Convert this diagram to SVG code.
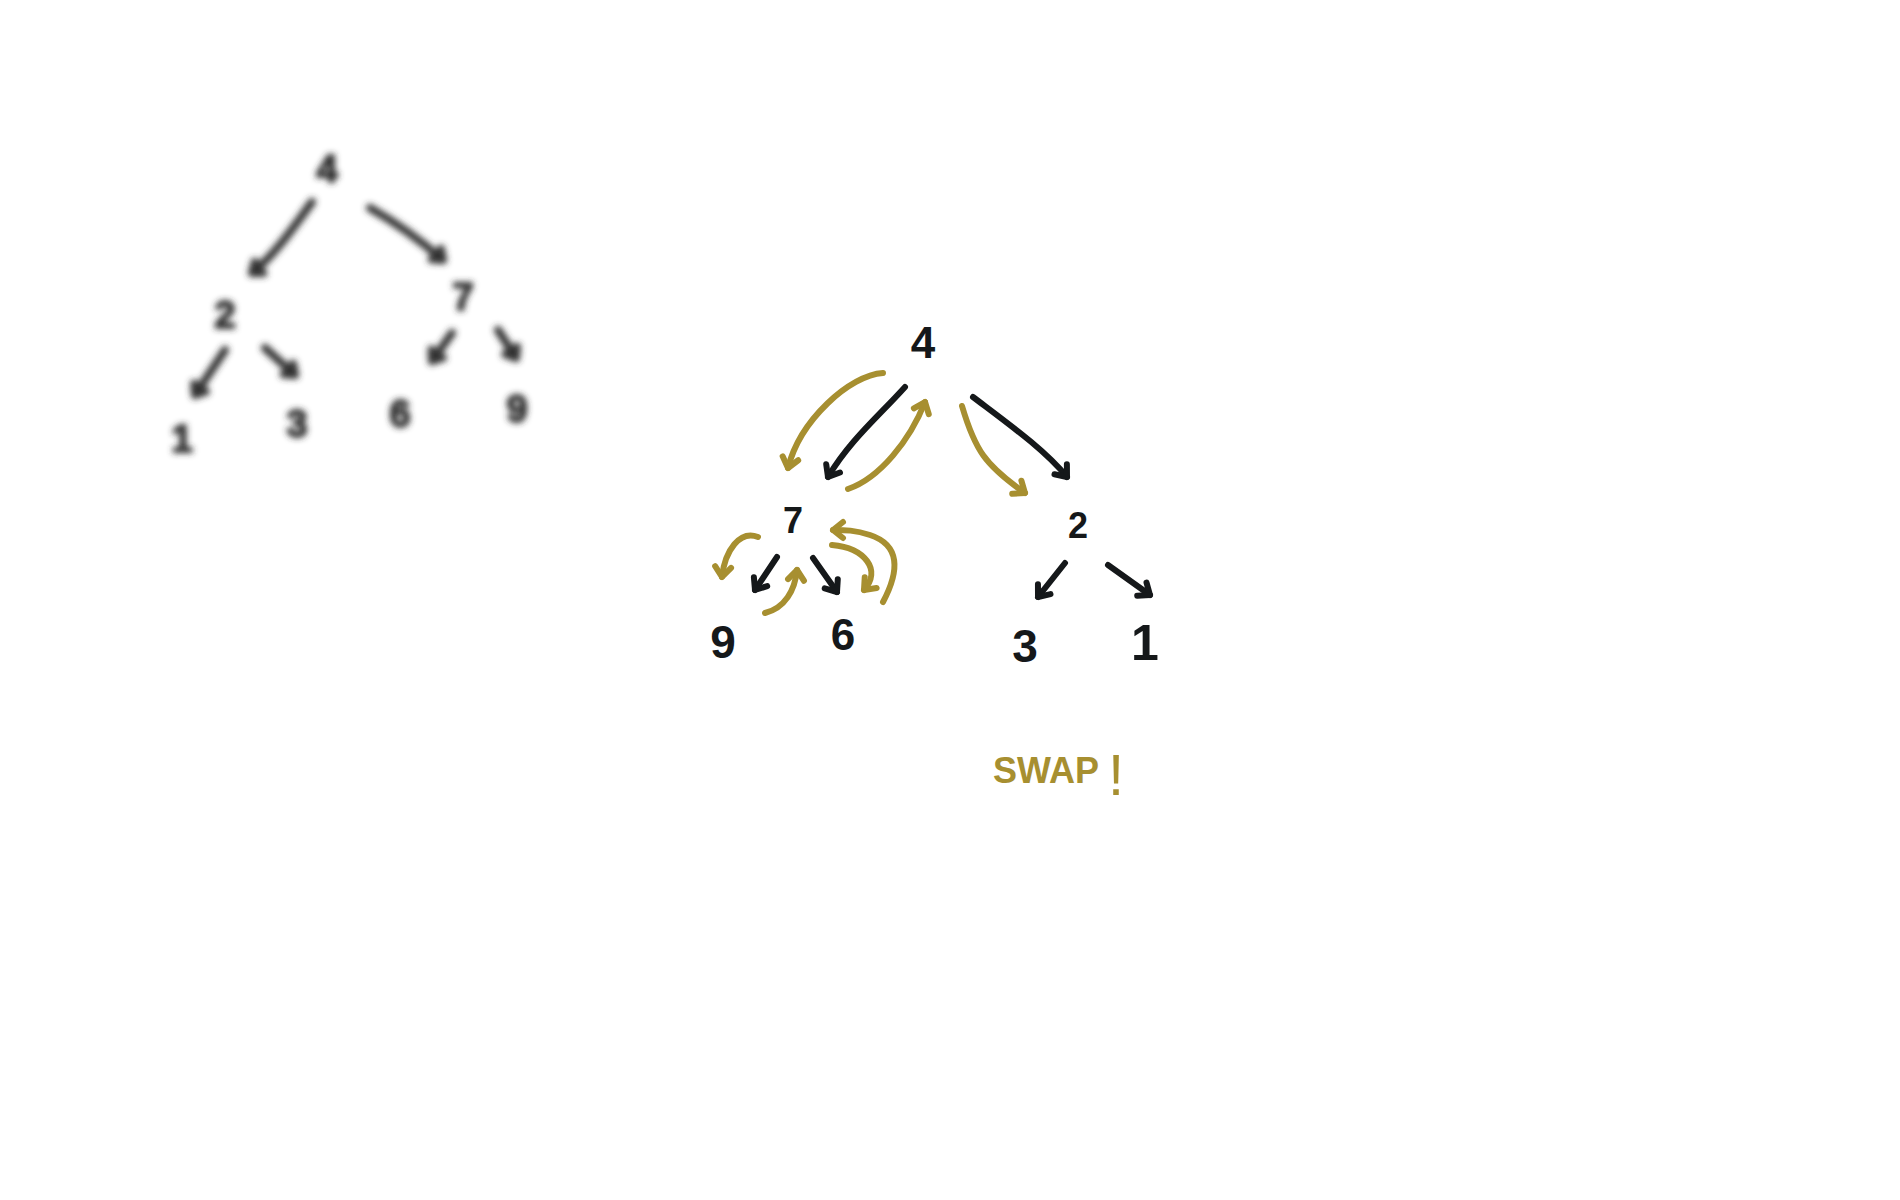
<svg xmlns="http://www.w3.org/2000/svg" width="1900" height="1200" viewBox="0 0 1900 1200">
<style>
.num{font-family:"Liberation Sans","DejaVu Sans",sans-serif;text-anchor:middle;fill:#15181a;font-weight:bold}
.old{fill:#2e2e2e;stroke:#2e2e2e;stroke-width:2}
.blk{fill:none;stroke:#15181a;stroke-width:6;stroke-linecap:round;stroke-linejoin:round}
.gold{fill:none;stroke:#a78f30;stroke-width:6;stroke-linecap:round;stroke-linejoin:round}
.oldc{fill:none;stroke:#333333;stroke-width:8;stroke-linecap:round;stroke-linejoin:round}
.swap{font-family:"Liberation Sans","DejaVu Sans",sans-serif;fill:#a78f30;font-weight:bold}
</style>
<defs>
<filter id="blur" x="-20%" y="-20%" width="140%" height="140%"><feGaussianBlur stdDeviation="3.2"/></filter>
<marker id="hb" markerUnits="userSpaceOnUse" markerWidth="30" markerHeight="30" viewBox="-15 -15 30 30" refX="0" refY="0" orient="auto"><path d="M-10,-8 L0,0 L-10,8" fill="none" stroke="#15181a" stroke-width="6" stroke-linecap="round" stroke-linejoin="round"/></marker>
<marker id="hg" markerUnits="userSpaceOnUse" markerWidth="30" markerHeight="30" viewBox="-15 -15 30 30" refX="0" refY="0" orient="auto"><path d="M-10,-8 L0,0 L-10,8" fill="none" stroke="#a78f30" stroke-width="6" stroke-linecap="round" stroke-linejoin="round"/></marker>
<marker id="ho" markerUnits="userSpaceOnUse" markerWidth="30" markerHeight="30" viewBox="-15 -15 30 30" refX="0" refY="0" orient="auto"><path d="M-9,-7 L0,0 L-9,7" fill="#333333" stroke="#333333" stroke-width="8" stroke-linecap="round" stroke-linejoin="round"/></marker>
</defs>
<rect width="1900" height="1200" fill="#ffffff"/>

<!-- blurred original tree -->
<g id="old-tree" filter="url(#blur)">
  <g id="old-connectors">
    <path class="oldc" d="M312,202 C295,225 275,255 252,273" marker-end="url(#ho)"/>
    <path class="oldc" d="M370,208 C395,222 420,240 443,260" marker-end="url(#ho)"/>
    <path class="oldc" d="M225,350 L195,395" marker-end="url(#ho)"/>
    <path class="oldc" d="M265,348 L295,375" marker-end="url(#ho)"/>
    <path class="oldc" d="M452,333 L432,361" marker-end="url(#ho)"/>
    <path class="oldc" d="M498,330 L516,358" marker-end="url(#ho)"/>
  </g>
  <g id="old-n4"><text class="num old" x="327" y="182" font-size="38">4</text></g>
  <g id="old-n2"><text class="num old" x="225" y="328" font-size="38">2</text></g>
  <g id="old-n7"><text class="num old" x="463" y="310" font-size="38">7</text></g>
  <g id="old-n1"><text class="num old" x="182" y="452" font-size="38">1</text></g>
  <g id="old-n3"><text class="num old" x="297" y="437" font-size="38">3</text></g>
  <g id="old-n6"><text class="num old" x="400" y="427" font-size="38">6</text></g>
  <g id="old-n9"><text class="num old" x="517" y="422" font-size="38">9</text></g>
</g>

<!-- inverted tree -->
<g id="connectors">
  <path class="blk" d="M905,387 C880,415 850,440 828,477" marker-end="url(#hb)"/>
  <path class="blk" d="M973,397 C1010,425 1045,450 1067,477" marker-end="url(#hb)"/>
  <path class="blk" d="M777,557 L755,590" marker-end="url(#hb)"/>
  <path class="blk" d="M813,558 L837,592" marker-end="url(#hb)"/>
  <path class="blk" d="M1065,563 L1038,597" marker-end="url(#hb)"/>
  <path class="blk" d="M1108,565 L1150,595" marker-end="url(#hb)"/>
  <path class="gold" d="M883,373 C850,375 800,420 788,468" marker-end="url(#hg)"/>
  <path class="gold" d="M848,489 C880,478 910,440 925,402" marker-end="url(#hg)"/>
  <path class="gold" d="M962,406 C975,450 985,465 1025,493" marker-end="url(#hg)"/>
  <path class="gold" d="M758,537 C740,530 725,550 722,577" marker-end="url(#hg)"/>
  <path class="gold" d="M765,613 C785,608 795,590 797,570" marker-end="url(#hg)"/>
  <path class="gold" d="M832,545 C865,548 882,570 864,590" marker-end="url(#hg)"/>
  <path class="gold" d="M883,602 C900,570 900,545 870,535 C855,530 845,530 833,530" marker-end="url(#hg)"/>
</g>
<g id="n4"><text class="num" x="923" y="358" font-size="44">4</text></g>
<g id="n7"><text class="num" x="793" y="533" font-size="36">7</text></g>
<g id="n2"><text class="num" x="1078" y="538" font-size="36">2</text></g>
<g id="n9"><text class="num" x="723" y="658" font-size="46">9</text></g>
<g id="n6"><text class="num" x="843" y="650" font-size="44">6</text></g>
<g id="n3"><text class="num" x="1025" y="662" font-size="46">3</text></g>
<g id="n1"><text class="num" x="1145" y="660" font-size="50">1</text></g>
<g id="swap-label"><text class="swap" x="993" y="783" font-size="36">SWAP<tspan x="1116" y="795" font-size="58" font-weight="normal" text-anchor="middle">!</tspan></text></g>
</svg>
